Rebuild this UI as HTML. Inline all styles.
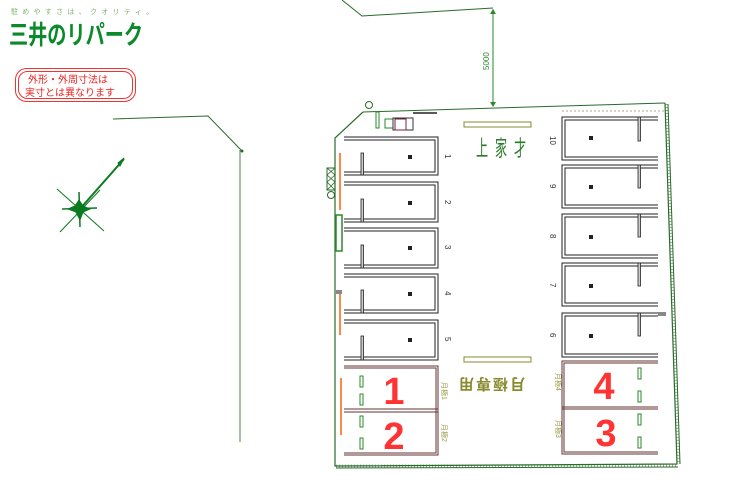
<!DOCTYPE html>
<html><head><meta charset="utf-8"><style>
html,body{margin:0;padding:0;background:#fff;}
svg{display:block;font-family:"Liberation Sans","Noto Sans CJK JP",sans-serif;}
</style></head><body>
<svg width="754" height="489" viewBox="0 0 754 489" xmlns="http://www.w3.org/2000/svg">
<!-- logo -->
<text x="11" y="14" font-size="7" fill="#7cb36a" textLength="142" lengthAdjust="spacing">駐めやすさは、クオリティ。</text>
<text x="9" y="44" font-size="26" font-weight="bold" fill="#0a8a2a" textLength="134" lengthAdjust="spacingAndGlyphs">三井のリパーク</text>
<!-- notice -->
<rect x="15.5" y="68.5" width="120" height="33" rx="11" fill="none" stroke="#e33" stroke-width="1"/>
<rect x="18.5" y="71.5" width="114" height="27" rx="9" fill="none" stroke="#e33" stroke-width="1"/>
<text x="28" y="83" font-size="10" fill="#e22">外形・外周寸法は</text>
<text x="25" y="96" font-size="10" fill="#e22">実寸とは異なります</text>
<!-- road lines -->
<polyline points="342,0 362,16 493,8" fill="none" stroke="#2a6a2a" stroke-width="1"/>
<polyline points="113,119 208,116 241,150" fill="none" stroke="#2a6a2a" stroke-width="1"/>
<line x1="240" y1="150" x2="240" y2="442" stroke="#6a9a6a" stroke-width="1.2"/>
<circle cx="242" cy="151" r="1.5" fill="#2a6a2a"/>
<!-- dimension -->
<line x1="493" y1="9" x2="493" y2="106" stroke="#2a8a2a" stroke-width="1"/>
<polygon points="490,102 496,102 493,107" fill="#2a8a2a"/>
<polygon points="490,14 496,14 493,9" fill="#2a8a2a"/>
<text x="0" y="0" font-size="8" fill="#2a8a2a" transform="translate(489,70) rotate(-90)">5000</text>
<!-- compass -->
<g stroke="#0a7a20" fill="#0a7a20">
<line x1="79" y1="210" x2="124" y2="159" stroke-width="2"/>
<polygon points="124,158 118,163 120,166"/>
<line x1="57" y1="189" x2="104" y2="231" stroke-width="1"/>
<line x1="60" y1="232" x2="100" y2="190" stroke-width="1"/>
<line x1="62" y1="209" x2="97" y2="208" stroke-width="1.5"/>
<line x1="79" y1="192" x2="80" y2="227" stroke-width="1.5"/>
<polygon points="79,200 83,206 90,209 83,212 80,220 76,212 68,209 75,206"/>
</g>
<!-- site boundary -->
<polyline points="363,112 665,103" fill="none" stroke="#2a6a2a" stroke-width="1"/>
<polyline points="363,112 335,138 335,466 677,464 665,103" fill="none" stroke="#2a6a2a" stroke-width="1.2"/>
<line x1="668" y1="104" x2="680" y2="464" stroke="#2a6a2a" stroke-width="1"/>
<line x1="336" y1="468" x2="678" y2="467" stroke="#2a6a2a" stroke-width="1"/>
<line x1="667" y1="104" x2="679" y2="464" stroke="#2a6a2a" stroke-width="3" stroke-dasharray="1 2" opacity="0.5"/>
<line x1="336" y1="466" x2="678" y2="466" stroke="#2a6a2a" stroke-width="3" stroke-dasharray="1 2" opacity="0.5"/>
<circle cx="369" cy="105" r="3.5" fill="none" stroke="#2a6a2a"/>
<circle cx="331" cy="195" r="3.5" fill="none" stroke="#2a6a2a"/>
<rect x="327" y="168" width="8" height="22" fill="none" stroke="#2a6a2a"/>
<path d="M327,168 L335,175 L327,182 L335,190 M335,168 L327,175 L335,182 L327,190" stroke="#2a6a2a" fill="none" stroke-width="0.8"/>
<rect x="376" y="112" width="3" height="16" fill="none" stroke="#2a8a2a"/>
<path d="M385,119 h8 v9 h-8 z" fill="none" stroke="#2a8a2a"/>
<rect x="393" y="118" width="20" height="12" fill="none" stroke="#333"/>
<rect x="395" y="119" width="11" height="11" fill="none" stroke="#724"/>
<line x1="413" y1="113" x2="437" y2="113" stroke="#222" stroke-width="1.5"/>
<rect x="336" y="215" width="6" height="36" fill="none" stroke="#2a8a2a" stroke-width="1.5"/>
<line x1="340" y1="153" x2="340" y2="210" stroke="#f84" stroke-width="2"/>
<line x1="340" y1="290" x2="340" y2="335" stroke="#f84" stroke-width="2"/>
<line x1="341" y1="378" x2="341" y2="435" stroke="#f84" stroke-width="2"/>
<rect x="336" y="290" width="6" height="4" fill="#888"/>
<rect x="658" y="312" width="8" height="4" fill="#888"/>
<line x1="562" y1="111" x2="665" y2="111" stroke="#aa8" stroke-width="1" stroke-dasharray="2 2"/>
<!-- banners -->
<rect x="464" y="122" width="67" height="5" fill="none" stroke="#883"/>
<rect x="464" y="357" width="67" height="5" fill="none" stroke="#883"/>
<g font-size="22" fill="#2a7a2a" text-anchor="middle">
<text transform="translate(482,156) scale(0.55,1)">上</text>
<text transform="translate(501,156) scale(0.55,1)">家</text>
<text transform="translate(520,156) scale(0.55,1)">才</text>
</g>
<text x="0" y="0" font-size="15" font-weight="bold" fill="#8a8a30" transform="translate(525,379) rotate(180)" letter-spacing="2">月極専用</text>
<g fill="none" stroke="#222" stroke-width="1">
<!-- left stalls -->
<path d="M344,137 H438 V175 H344 M344,140 H435 V172 H344"/>
<path d="M344,182 H438 V222 H344 M344,185 H435 V219 H344"/>
<path d="M344,228 H438 V268 H344 M344,231 H435 V265 H344"/>
<path d="M344,274 H438 V313 H344 M344,277 H435 V310 H344"/>
<path d="M344,320 H438 V360 H344 M344,323 H435 V357 H344"/>
<!-- right stalls -->
<path d="M658,117 H562 V160 H658 M658,120 H565 V157 H658"/>
<path d="M658,165 H562 V208 H658 M658,168 H565 V205 H658"/>
<path d="M658,214 H562 V258 H658 M658,217 H565 V255 H658"/>
<path d="M658,263 H562 V306 H658 M658,266 H565 V303 H658"/>
<path d="M658,313 H562 V357 H658 M658,316 H565 V354 H658"/>
</g>
<g fill="#ccc" stroke="#222" stroke-width="0.8">
<rect x="361" y="153" width="2.5" height="22"/><rect x="361" y="199" width="2.5" height="23"/><rect x="361" y="245" width="2.5" height="23"/><rect x="361" y="290" width="2.5" height="23"/><rect x="361" y="336" width="2.5" height="24"/>
<rect x="638" y="117" width="2.5" height="24"/><rect x="638" y="165" width="2.5" height="23"/><rect x="638" y="214" width="2.5" height="23"/><rect x="638" y="263" width="2.5" height="23"/><rect x="638" y="313" width="2.5" height="23"/>
</g>
<g fill="#222">
<rect x="408" y="155" width="4" height="4"/><rect x="408" y="201" width="4" height="4"/><rect x="408" y="246" width="4" height="4"/><rect x="408" y="292" width="4" height="4"/><rect x="408" y="338" width="4" height="4"/>
<rect x="589" y="136" width="4" height="4"/><rect x="589" y="185" width="4" height="4"/><rect x="589" y="235" width="4" height="4"/><rect x="589" y="284" width="4" height="4"/><rect x="589" y="334" width="4" height="4"/>
</g>
<g font-size="8" fill="#333">
<text transform="translate(445,154) rotate(90)">1</text>
<text transform="translate(445,200) rotate(90)">2</text>
<text transform="translate(445,245) rotate(90)">3</text>
<text transform="translate(445,291) rotate(90)">4</text>
<text transform="translate(445,337) rotate(90)">5</text>
<text transform="translate(550,136) rotate(90)">10</text>
<text transform="translate(550,184) rotate(90)">9</text>
<text transform="translate(550,234) rotate(90)">8</text>
<text transform="translate(550,283) rotate(90)">7</text>
<text transform="translate(550,333) rotate(90)">6</text>
</g>
<!-- monthly -->
<g fill="none" stroke="#633" stroke-width="1">
<path d="M344,366 H438 V455 H344 M344,368 H436 V453 H344 M344,409 H438 M344,412 H438"/>
<path d="M658,361 H562 V454 H658 M658,363 H564 V452 H658 M658,407 H562 M658,409 H562"/>
</g>
<g fill="none" stroke="#2a8a2a">
<rect x="360" y="376" width="3" height="11"/><rect x="360" y="394" width="3" height="11"/><rect x="360" y="416" width="3" height="11"/><rect x="360" y="438" width="3" height="11"/>
<rect x="638" y="368" width="3" height="11"/><rect x="638" y="391" width="3" height="11"/><rect x="638" y="414" width="3" height="11"/><rect x="638" y="437" width="3" height="11"/>
</g>
<g font-size="7" fill="#999944">
<text transform="translate(442,382) rotate(90)">月極1</text>
<text transform="translate(442,424) rotate(90)">月極2</text>
<text transform="translate(556,373) rotate(90)">月極4</text>
<text transform="translate(556,420) rotate(90)">月極3</text>
</g>
<g font-size="38" font-weight="bold" fill="#f33" text-anchor="middle">
<text x="394" y="404">1</text>
<text x="394" y="449">2</text>
<text x="604" y="399">4</text>
<text x="606" y="446">3</text>
</g>
</svg>
</body></html>
